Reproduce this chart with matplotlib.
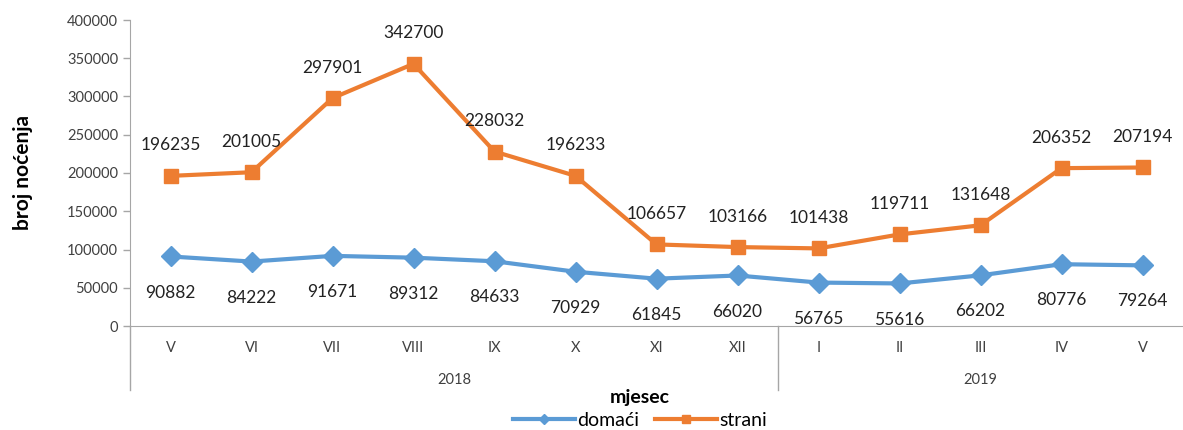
import matplotlib
matplotlib.use('Agg')
from matplotlib import pyplot as plt
from matplotlib.transforms import blended_transform_factory

plt.rcParams['font.family'] = ['Lato', 'DejaVu Sans']

# podaci
months = ['V', 'VI', 'VII', 'VIII', 'IX', 'X', 'XI', 'XII', 'I', 'II', 'III', 'IV', 'V']
years = ['2018', '2019']
year_counts = [8, 5]
domaci = [90882, 84222, 91671, 89312, 84633, 70929, 61845, 66020, 56765, 55616, 66202, 80776, 79264]
strani = [196235, 201005, 297901, 342700, 228032, 196233, 106657, 103166, 101438, 119711, 131648, 206352, 207194]

blue = '#5B9BD5'
orange = '#ED7D31'
gray = '#A6A6A6'
txt = '#404040'

fig = plt.figure(figsize=(11.83, 4.30), dpi=100)
ax = fig.add_axes([130 / 1183, 1 - 326 / 430, 1 - 130 / 1183, 306 / 430])

x = list(range(len(months)))
ax.plot(x, domaci, color=blue, lw=3, marker='D', ms=10, label='domaći', zorder=3)
ax.plot(x, strani, color=orange, lw=3, marker='s', ms=9.5, label='strani', zorder=3)

for i in x:
    ax.annotate(str(domaci[i]), (i, domaci[i]), xytext=(0, -26), textcoords='offset points',
                ha='center', va='center', fontsize=12.5, color='#222222')
    ax.annotate(str(strani[i]), (i, strani[i]), xytext=(0, 22), textcoords='offset points',
                ha='center', va='center', fontsize=12.5, color='#222222')

ax.set_xlim(-0.5, len(months) - 0.5)
ax.set_ylim(0, 400000)
ax.set_yticks(range(0, 400001, 50000))
ax.tick_params(axis='y', labelsize=10.5, colors=gray, labelcolor=txt, length=5, width=1)
ax.set_xticks([])

for s in ['top', 'right']:
    ax.spines[s].set_visible(False)
ax.spines['left'].set_color(gray)
ax.spines['bottom'].set_color(gray)

# kategorije na x osi (dva nivoa)
tr = blended_transform_factory(ax.transData, ax.transAxes)
for i, m in enumerate(months):
    ax.text(i, -0.072, m, transform=tr, ha='center', va='center', fontsize=10.5, color=txt)

start = 0
for y, n in zip(years, year_counts):
    mid = start + (n - 1) / 2
    ax.text(mid, -0.175, y, transform=tr, ha='center', va='center', fontsize=10.5, color=txt)
    start += n

ax.plot([-0.5, -0.5], [0, -0.209], transform=tr, color=gray, lw=1, clip_on=False)
ax.plot([7.5, 7.5], [0, -0.209], transform=tr, color=gray, lw=1, clip_on=False)

ax.set_ylabel('broj noćenja', fontsize=15, fontweight='bold')
ax.yaxis.set_label_coords(-0.092, 0.5)
fig.text(0.541, 1 - 398 / 430, 'mjesec', ha='center', va='center', fontsize=14, fontweight='bold')

fig.legend(loc='center', bbox_to_anchor=(0.541, 1 - 420 / 430), ncol=2, frameon=False,
           fontsize=14, handlelength=3.2, columnspacing=0.8, handletextpad=0.1, borderaxespad=0,
           markerscale=0.55)

fig.savefig('out.png', dpi=100)
